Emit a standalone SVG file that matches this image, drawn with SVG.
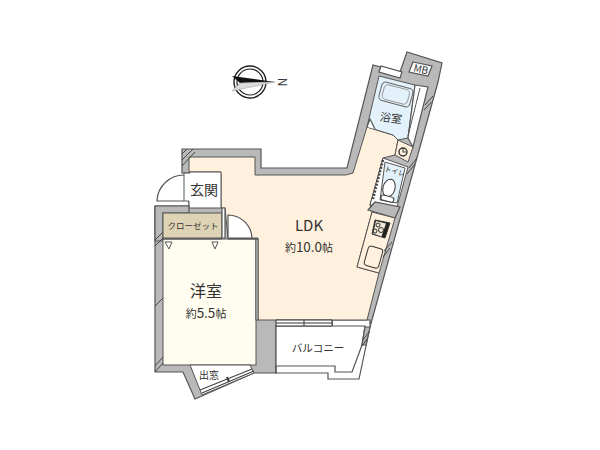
<svg xmlns="http://www.w3.org/2000/svg" width="600" height="450" viewBox="0 0 600 450">
<style>
text{font-family:"Noto Sans CJK JP","Liberation Sans",sans-serif;fill:#333;text-anchor:middle}
.w{fill:#b9b9b9;stroke:#555;stroke-width:1.2;stroke-linejoin:miter}
.l{fill:none;stroke:#555;stroke-width:1.2}
.t{fill:#fff;stroke:#555;stroke-width:1.2}
.h{fill:none;stroke:#444;stroke-width:1}
</style>
<rect width="600" height="450" fill="#fff"/>
<g id="walls">
<path class="w" d="M182 149H261V168H347L373 65L400 72L407 52L442 63L438 82L370 327V320H332V326H276V373H254L195 399L183 372H155V206H189V173H182Z"/>
</g>
<g id="ldk">
<path fill="#fff1dd" stroke="#555" d="M189 157H255V175H346L353 173L367 127L393 135L398 140L395 155L383 158L370 205L372 212L357 267L379 273L367 320H258V238H228L225 208H221V172H189Z"/>
</g>
<g id="bath">
<path fill="#e3f1fa" stroke="#555" d="M379 76L415 85L408 138L398 140L393 135L367 127Z"/>
<rect x="380" y="85" width="32" height="19" rx="4" transform="rotate(15 396 94)" fill="#e3f1fa" stroke="#666"/>
<rect x="383" y="87" width="26" height="15" rx="4" transform="rotate(15 396 94)" fill="none" stroke="#999"/>
<path class="t" d="M379 72L381 66L402 72L400 78Z"/>
<path class="t" d="M415 85L428 87L413 147L408 138Z"/>
<path d="M420 88L408 136" stroke="#555" fill="none"/>
<path d="M367 127L370 119L375 129" class="t"/>
<text x="391" y="122" font-size="11" transform="rotate(8 391 118)">浴室</text>
</g>
<g id="mb">
<path class="t" d="M413 62L432 66L428 76L409 72Z"/>
<text x="421" y="73" font-size="10" transform="rotate(13 421 69)">MB</text>
</g>
<g id="meter">
<path fill="#fff1dd" stroke="#555" d="M398 140L413 147L408 162L395 155Z"/>
<circle cx="403" cy="152" r="4" fill="none" stroke="#333" stroke-width="1.4"/>
<path d="M403 149V152H406" class="l"/>
</g>
<g id="toilet">
<path fill="#fff" stroke="#555" d="M383 158L408 167L397 207L370 205Z"/>
<path fill="#e3f1fa" stroke="#555" d="M385 162L405 168L397 203L380 200Z"/>
<path d="M383 160L373 199" stroke="#444" stroke-width="2.5" stroke-dasharray="2 1.5" fill="none"/>
<ellipse cx="389" cy="188" rx="6" ry="9" transform="rotate(15 389 188)" fill="#fff" stroke="#333"/>
<rect x="381" y="196" width="13" height="5" rx="2" transform="rotate(15 387 198)" fill="#fff" stroke="#333"/>
<text x="395" y="174" font-size="7" transform="rotate(15 395 171)">トイレ</text>
<path class="w" d="M368 210L375 202L400 207L395 218Z"/>
</g>
<g id="kitchen">
<path fill="#fff1dd" stroke="#555" d="M372 212L395 218L379 273L357 267Z"/>
<path fill="#222" stroke="#333" d="M375 220L390 223L385 238L372 234Z"/>
<path fill="#efe6d4" d="M376 221L386 223.5L381.5 236.5L373 233.5Z"/>
<circle cx="378" cy="225" r="2" fill="none" stroke="#333"/>
<circle cx="381" cy="230" r="2.5" fill="none" stroke="#333"/>
<circle cx="375" cy="231" r="2" fill="none" stroke="#333"/>
<rect x="366" y="247" width="15" height="20" rx="3" transform="rotate(16 373 257)" fill="#fff1dd" stroke="#333"/>
</g>
<g id="genkan">
<path fill="#fff" stroke="#555" d="M190 172H221V208H189V201H184V173H190Z"/>
<path class="l" d="M184 175A27 27 0 0 0 157 200V201H184"/>
<text x="204" y="195" font-size="14">玄関</text>
</g>
<g id="closet">
<path class="w" d="M155 206H189V213H163V241H155Z"/>
<rect x="163" y="213" width="59" height="25" fill="#ded3b4" stroke="#555"/>
<text x="193" y="229" font-size="8.5">クローゼット</text>
<path class="t" d="M222 208H225V238H222Z"/>
<path class="t" d="M228 238V215A24 24 0 0 1 252 238Z"/>
</g>
<g id="youshitsu">
<rect x="163" y="239" width="93" height="126" fill="#fffdef" stroke="#555"/>
<path class="t" d="M256 241V239H258V320H256Z"/>
<path class="l" d="M163 239H222M228 239H258" stroke-width="1.6"/>
<path fill="#fff" stroke="#555" d="M165 242H172L169 249ZM212 242H218L215 249Z"/>
<text x="206" y="297" font-size="16">洋室</text>
<text x="206" y="318" font-size="11">約<tspan font-size="13.5">5.5</tspan>帖</text>
</g>
<g id="bay">
<path fill="#fff" stroke="#555" d="M190 365H250L254 373L202 395L200 390Z"/>
<path d="M200 390L252 369M202 393L254 371" stroke="#444" stroke-width="1.2" fill="none"/>
<path d="M227 377L229 382" stroke="#333" stroke-width="2"/>
<text x="209" y="379" font-size="10">出窓</text>
</g>
<g id="balcony">
<path class="t" d="M276 326H365L362 345L352 372H335V366H276Z"/>
<path class="l" d="M276 366V373H328V379H359L370 327"/>
<path class="w" d="M365 327L370 327L366 345L362 345Z"/>
<path fill="#fff" stroke="#333" d="M276 320H332V326H276Z"/>
<path stroke="#333" d="M276 323H305M305 323H332M304 320V326" fill="none"/>
<text x="318" y="352" font-size="10.5">バルコニー</text>
</g>
<g id="labels">
<text x="309" y="231" font-size="15">LDK</text>
<text x="309" y="252" font-size="11">約<tspan font-size="13.5">10.0</tspan>帖</text>
</g>
<g id="hatches">
<path class="h" d="M182 160L193 149M182 154L187 149M182 166L195 152M155 306L163 298M155 246L163 238M155 240L163 232M155 372L163 363M155 366L163 357M425 105L433 96M424 110L431.500 102M409 168L417 158M407 174L415 164M384 251L392 242M383 257L390 248M362 341L369 332M362 346L367 339"/>
</g>
<g id="compass">
<circle cx="250" cy="82" r="16" fill="none" stroke="#222" stroke-width="1.4"/>
<circle cx="250" cy="82" r="13" fill="none" stroke="#222" stroke-width="1.2"/>
<path d="M232 76L275 82L240 83Z" fill="#111"/>
<path d="M232 91L275 82L240 83Z" fill="#ddd" stroke="#999" stroke-width=".5"/>
<text x="282" y="86" font-size="12" transform="rotate(90 282 82)">N</text>
</g>
</svg>
